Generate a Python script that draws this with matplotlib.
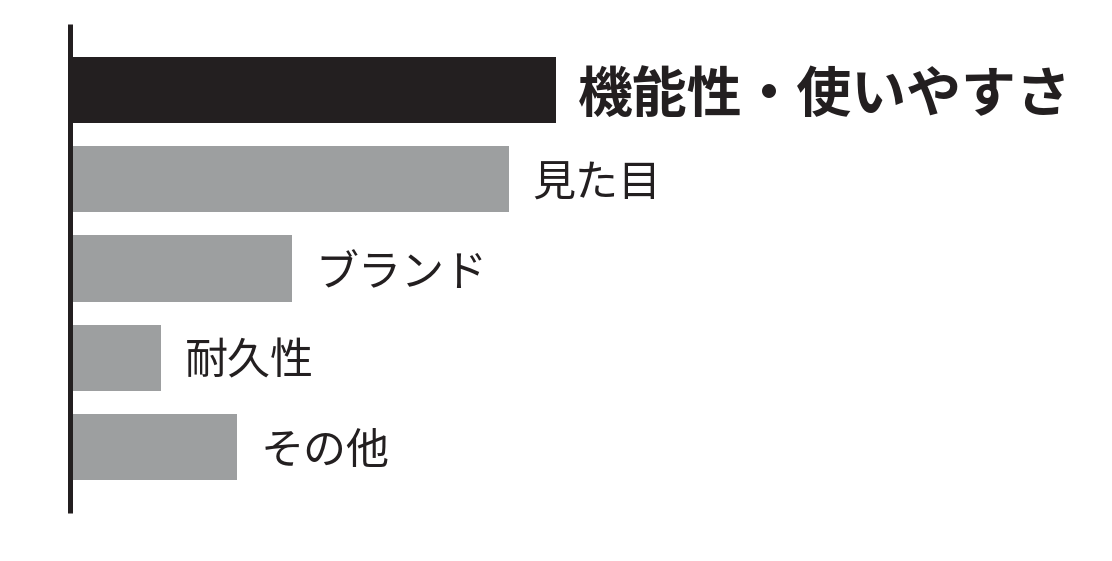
import matplotlib
matplotlib.use("Agg")
import matplotlib.pyplot as plt

plt.rcParams['font.family'] = ['Noto Sans CJK JP', 'DejaVu Sans']

# 回答項目と値
labels = ['機能性・使いやすさ', '見た目', 'ブランド', '耐久性', 'その他']
values = [48.6, 43.9, 22.2, 9.1, 16.7]
colors = ['#231f20', '#9d9fa0', '#9d9fa0', '#9d9fa0', '#9d9fa0']

fig = plt.figure(figsize=(11.12, 5.61), dpi=100)
ax = fig.add_axes([70/1112, 48/561, 1000/1112, 489/561])

y = list(range(len(labels)))
ax.barh(y, values, height=0.74, color=colors, zorder=2)

for i, (v, lab) in enumerate(zip(values, labels)):
	if i == 0:
		ax.annotate(lab, (v, i), xytext=(16, -3.6), textcoords='offset points',
			va='center', ha='left', fontsize=39.5, fontweight='bold', color='#231f20')
	else:
		ax.annotate(lab, (v, i), xytext=(17, -3.6), textcoords='offset points',
			va='center', ha='left', fontsize=31, color='#231f20')

ax.set_xlim(0, 100)
ax.set_ylim(4.74, -0.74)
for s in ['top', 'right', 'bottom']:
	ax.spines[s].set_visible(False)
ax.spines['left'].set_linewidth(3.6)
ax.spines['left'].set_color('#231f20')
ax.spines['left'].set_capstyle('butt')
ax.spines['left'].set_zorder(3)
ax.set_xticks([]); ax.set_yticks([])

fig.savefig('out.png', dpi=100)
